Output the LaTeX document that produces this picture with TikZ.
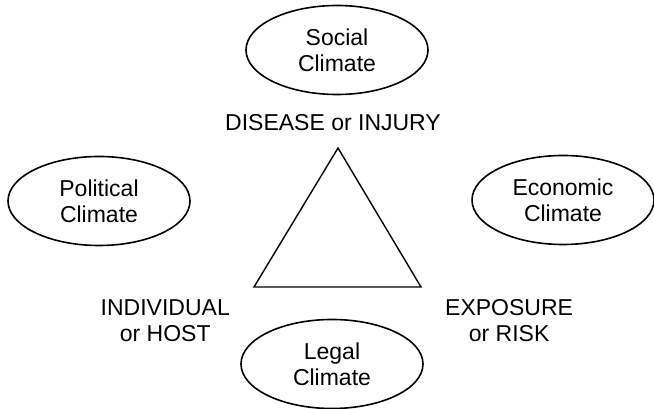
\documentclass[tikz,border=0pt]{standalone}
\usepackage{fontspec}
\setmainfont{Liberation Sans}
\usetikzlibrary{shapes.geometric,positioning}

\begin{document}
\begin{tikzpicture}[x=1pt,y=1pt,font=\fontsize{23}{26}\selectfont,
	climate/.style={ellipse,draw,line width=1.6pt,minimum width=182pt,minimum height=89pt,align=center,inner sep=0pt},
	corner/.style={align=center,inner sep=0pt}]
	\useasboundingbox (0,0) rectangle (654,409);

	\node[climate] (social)    at (337,359) {Social\\Climate};
	\node[climate] (political) at (99,208)  {Political\\Climate};
	\node[climate] (economic)  at (563,209) {Economic\\Climate};
	\node[climate] (legal)     at (332,45)  {Legal\\Climate};

	\coordinate (apex) at (338,261);
	\coordinate (host) at (254,122);
	\coordinate (risk) at (421,122);
	\draw[line width=1.4pt,line join=miter] (apex) -- (host) -- (risk) -- cycle;

	\node[corner] (disease)    [above=17pt of apex,xshift=-5pt]     {DISEASE or INJURY};
	\node[corner] (individual) [below left=12pt and 24pt of host]   {INDIVIDUAL\\or HOST};
	\node[corner] (exposure)   [below right=12pt and 24pt of risk]  {EXPOSURE\\or RISK};
\end{tikzpicture}
\end{document}
